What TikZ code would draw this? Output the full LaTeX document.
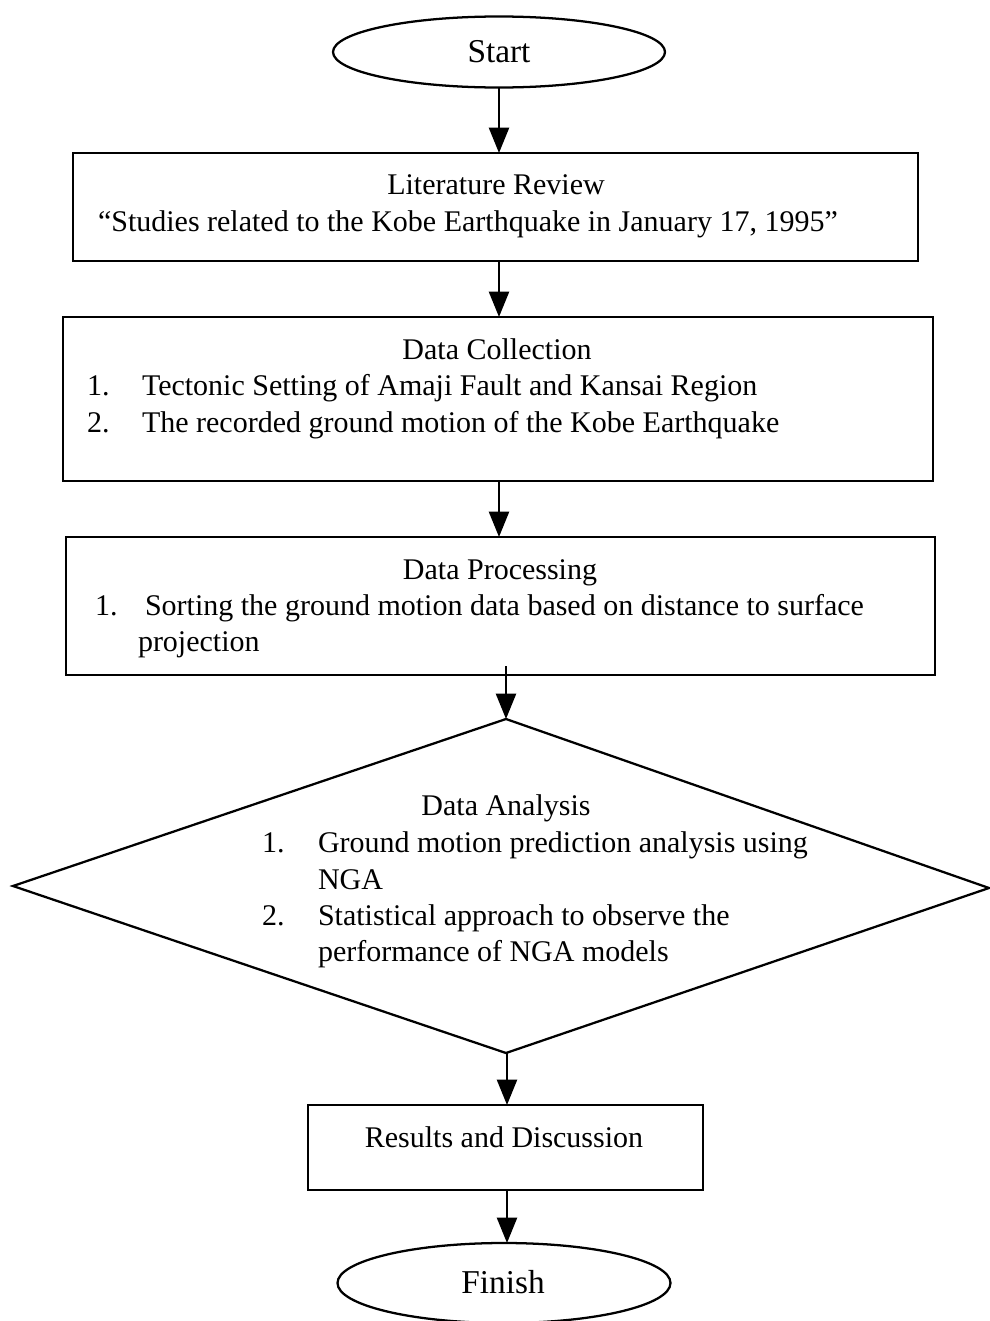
\documentclass[tikz,border=0pt]{standalone}
\usepackage{fontspec}
\setmainfont{Liberation Serif}
\usetikzlibrary{arrows.meta,shapes.geometric}
\begin{document}
\begin{tikzpicture}[x=0.75pt,y=-0.75pt,
  line width=1.7pt,
  every node/.style={font=\fontsize{22.5}{27}\selectfont, inner sep=0pt, outer sep=0pt},
  txt/.style={anchor=base},
  big/.style={anchor=base, font=\fontsize{25}{30}\selectfont},
  ltxt/.style={anchor=base west},
  arr/.style={-{Triangle[width=15pt,length=19pt]}, line width=1.7pt},
]
\useasboundingbox (0,0) rectangle (989,1321);
% Start
\node[draw, ellipse, minimum width=332*0.75pt, minimum height=71*0.75pt] (start) at (499,52) {};
\node[big] (starttxt) at (499,62) {Start};
% Literature review
\draw (73,153) rectangle (918,261);
\coordinate (litTop) at (499,153);
\coordinate (litBot) at (499,261);
\node[txt] (lit1) at (496,194) {Literature Review};
\node[ltxt] (lit2) at (98,231) {“Studies related to the Kobe Earthquake in January 17, 1995”};
% Data collection
\draw (63,317) rectangle (933,481);
\coordinate (colTop) at (499,317);
\coordinate (colBot) at (499,481);
\node[txt] (col1) at (497,359) {Data Collection};
\node[ltxt] (col2n) at (87,395) {1.};
\node[ltxt] (col2) at (142,395) {Tectonic Setting of Amaji Fault and Kansai Region};
\node[ltxt] (col3n) at (87,432) {2.};
\node[ltxt] (col3) at (142,432) {The recorded ground motion of the Kobe Earthquake};
% Data processing
\draw (66,537) rectangle (935,675);
\coordinate (proTop) at (499,537);
\coordinate (proStart) at (506,666);
\node[txt] (pro1) at (500,579) {Data Processing};
\node[ltxt] (pro2n) at (95,615) {1.};
\node[ltxt] (pro2) at (145,615) {Sorting the ground motion data based on distance to surface};
\node[ltxt] (pro3) at (138,651) {projection};
% Diamond
\draw (506,719) -- (989,888) -- (506,1053) -- (13,886) -- cycle;
\coordinate (diaTop) at (506,719);
\coordinate (diaBot) at (507,1053);
\node[txt] (ana1) at (506,815) {Data Analysis};
\node[ltxt] (ana2n) at (262,852) {1.};
\node[ltxt] (ana2) at (318,852) {Ground motion prediction analysis using};
\node[ltxt] (ana3) at (318,889) {NGA};
\node[ltxt] (ana4n) at (262,925) {2.};
\node[ltxt] (ana4) at (318,925) {Statistical approach to observe the};
\node[ltxt] (ana5) at (318,961) {performance of NGA models};
% Results
\draw (308,1105) rectangle (703,1190);
\coordinate (resTop) at (507,1105);
\coordinate (resBot) at (507,1190);
\node[txt] (res) at (504,1147) {Results and Discussion};
% Finish
\node[draw, ellipse, minimum width=333*0.75pt, minimum height=80*0.75pt] (fin) at (504,1283) {};
\node[big] (fintxt) at (503,1293) {Finish};
% arrows
\draw[arr] (start.south) -- (litTop);
\draw[arr] (litBot) -- (499,317);
\draw[arr] (colBot) -- (proTop);
\draw[arr] (proStart) -- (diaTop);
\draw[arr] (diaBot) -- (resTop);
\draw[arr] (resBot) -- (resBot |- fin.north);
\end{tikzpicture}
\end{document}
